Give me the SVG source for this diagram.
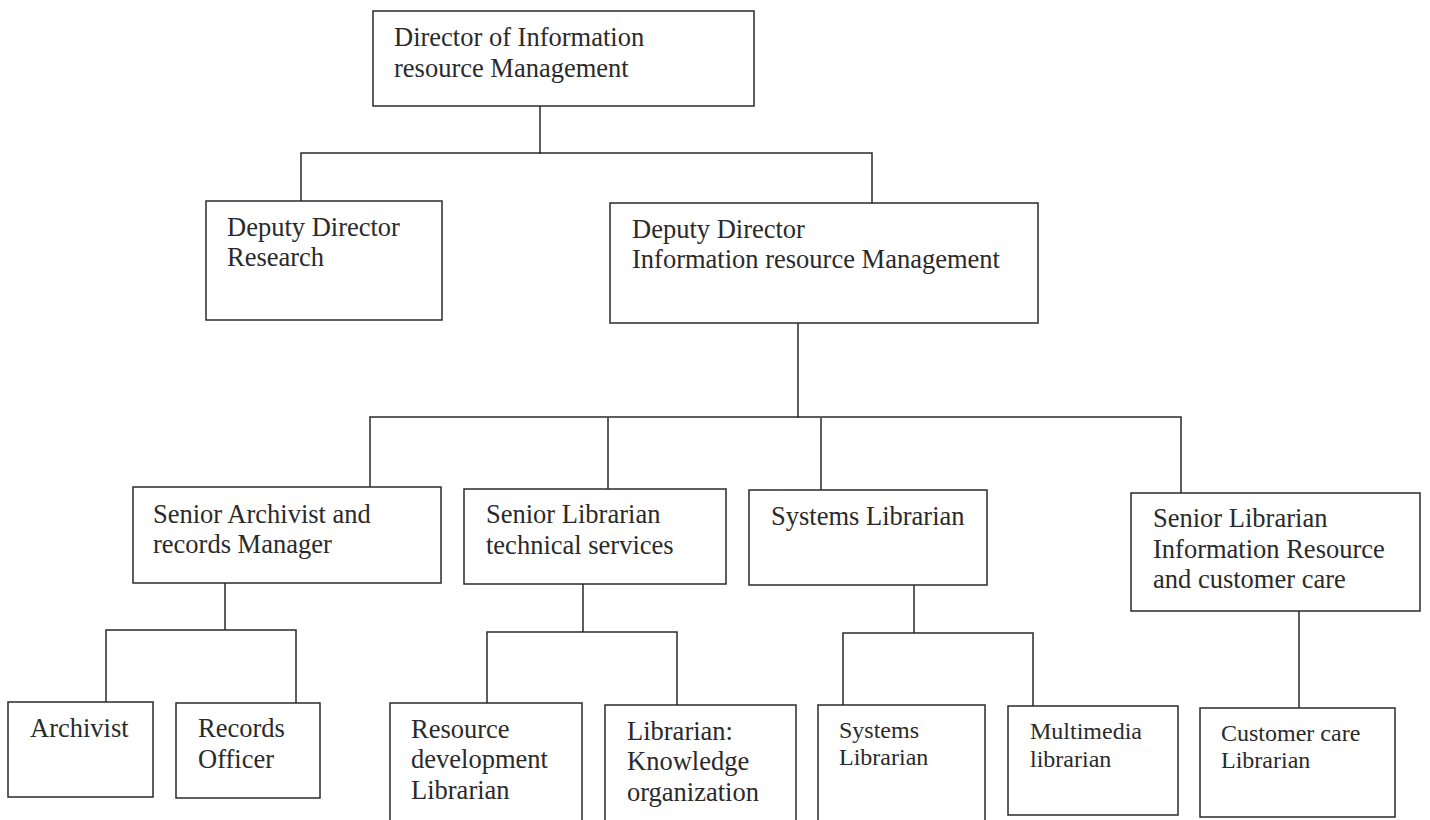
<svg xmlns="http://www.w3.org/2000/svg" width="1430" height="820" viewBox="0 0 1430 820">
<style>
.box{fill:#fff;stroke:#2a2a2a;stroke-width:1.5}
.t{font-family:"Liberation Serif","Times New Roman",serif;font-size:26.5px;fill:#2a2a2a}
.s{font-size:24px}
.c{fill:none;stroke:#2a2a2a;stroke-width:1.5}
</style>
<rect width="1430" height="820" fill="#fff"/>
<g id="connectors">
<path class="c" d="M540,106V154M301,201V153H872V203"/>
<path class="c" d="M798,323V418M370,487V417H1181V493M608,418V489M821,418V490"/>
<path class="c" d="M225,583V630M106,702V630H296V703"/>
<path class="c" d="M583,584V632M487,703V632H677V705"/>
<path class="c" d="M914,585V633M843,705V633H1033V706"/>
<path class="c" d="M1299,611V708"/>
</g>
<g id="director"><rect class="box" x="373" y="11" width="381" height="95"/><text class="t" x="394" y="46">Director of Information</text><text class="t" x="394" y="77">resource Management</text></g>
<g id="deputy-research"><rect class="box" x="206" y="201" width="236" height="119"/><text class="t" x="227" y="236">Deputy Director</text><text class="t" x="227" y="266">Research</text></g>
<g id="deputy-irm"><rect class="box" x="610" y="203" width="428" height="120"/><text class="t" x="632" y="238">Deputy Director</text><text class="t" x="632" y="268">Information resource Management</text></g>
<g id="senior-archivist"><rect class="box" x="133" y="487" width="308" height="96"/><text class="t" x="153" y="523">Senior Archivist and</text><text class="t" x="153" y="553">records Manager</text></g>
<g id="senior-librarian-tech"><rect class="box" x="464" y="489" width="262" height="95"/><text class="t" x="486" y="523">Senior Librarian</text><text class="t" x="486" y="554">technical services</text></g>
<g id="systems-librarian-head"><rect class="box" x="749" y="490" width="238" height="95"/><text class="t" x="771" y="525">Systems Librarian</text></g>
<g id="senior-librarian-ir"><rect class="box" x="1131" y="493" width="289" height="118"/><text class="t" x="1153" y="527">Senior Librarian</text><text class="t" x="1153" y="558">Information Resource</text><text class="t" x="1153" y="588">and customer care</text></g>
<g id="archivist"><rect class="box" x="8" y="702" width="145" height="95"/><text class="t" x="30" y="737">Archivist</text></g>
<g id="records-officer"><rect class="box" x="176" y="703" width="144" height="95"/><text class="t" x="198" y="737">Records</text><text class="t" x="198" y="768">Officer</text></g>
<g id="resource-dev"><rect class="box" x="390" y="703" width="192" height="130"/><text class="t" x="411" y="738">Resource</text><text class="t" x="411" y="768">development</text><text class="t" x="411" y="799">Librarian</text></g>
<g id="knowledge-org"><rect class="box" x="605" y="705" width="191" height="130"/><text class="t" x="627" y="740">Librarian:</text><text class="t" x="627" y="770">Knowledge</text><text class="t" x="627" y="801">organization</text></g>
<g id="systems-librarian"><rect class="box" x="818" y="705" width="167" height="130"/><text class="t s" x="839" y="738">Systems</text><text class="t s" x="839" y="765">Librarian</text></g>
<g id="multimedia"><rect class="box" x="1008" y="706" width="170" height="109"/><text class="t s" x="1030" y="739">Multimedia</text><text class="t s" x="1030" y="767">librarian</text></g>
<g id="customer-care"><rect class="box" x="1200" y="708" width="195" height="109"/><text class="t s" x="1221" y="741">Customer care</text><text class="t s" x="1221" y="768">Librarian</text></g>
</svg>
